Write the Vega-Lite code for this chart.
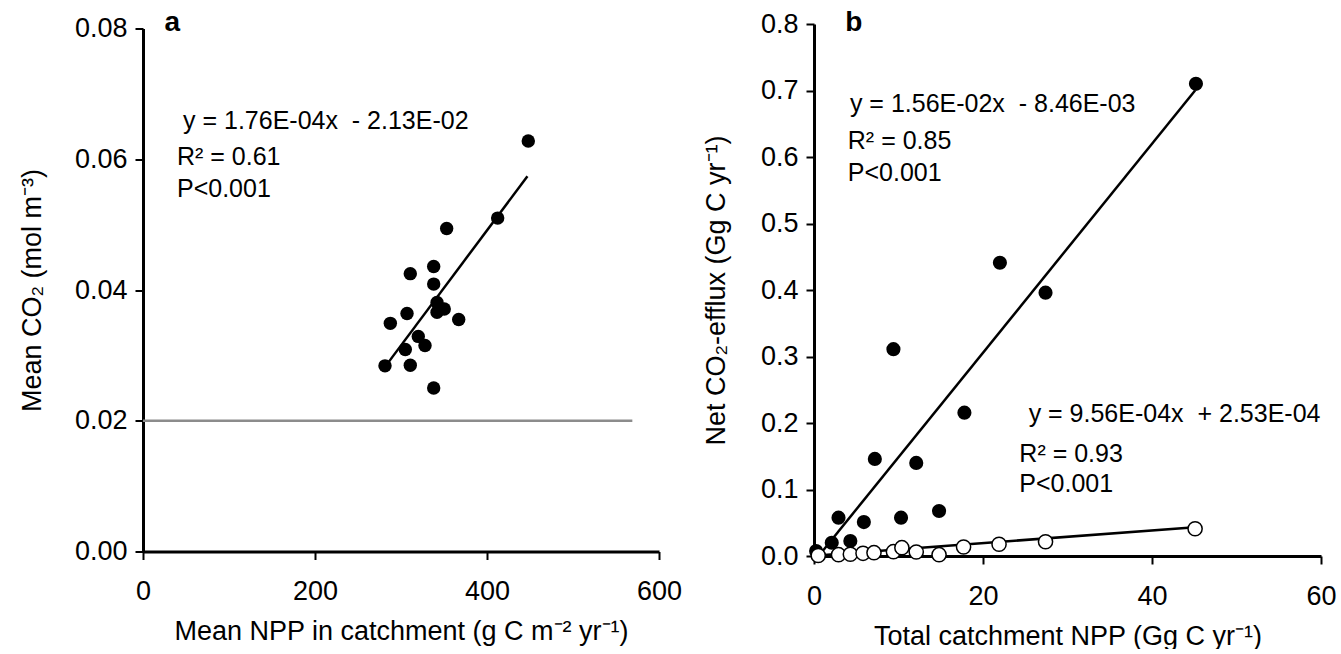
{
  "$schema": "https://vega.github.io/schema/vega-lite/v6.json",
  "background": "white",
  "padding": {"left": 18, "top": 9, "right": 0, "bottom": 0},
  "bounds": "flush",
  "center": true,
  "spacing": 155,
  "datasets": {
    "refA": [{"x": 0, "x2": 569, "y": 0.02}],
    "fitA": [{"x": 284, "y": 0.0287}, {"x": 447, "y": 0.0574}],
    "ptsA": [
      {"x": 412.4, "y": 0.0510}, {"x": 353.1, "y": 0.0494}, {"x": 338.0, "y": 0.0436},
      {"x": 310.8, "y": 0.0425}, {"x": 338.0, "y": 0.0409}, {"x": 341.9, "y": 0.0381},
      {"x": 350.3, "y": 0.0371}, {"x": 341.9, "y": 0.0366}, {"x": 307.0, "y": 0.0364},
      {"x": 367.1, "y": 0.0355}, {"x": 287.6, "y": 0.0349}, {"x": 320.1, "y": 0.0329},
      {"x": 327.9, "y": 0.0315}, {"x": 305.0, "y": 0.0309}, {"x": 281.4, "y": 0.0284},
      {"x": 310.8, "y": 0.0285}, {"x": 338.0, "y": 0.0250}, {"x": 448.0, "y": 0.0628}
    ],
    "txtA": [
      {"x": 46.5, "y": 0.0658, "t": "y = 1.76E-04x\u00a0\u00a0- 2.13E-02"},
      {"x": 39.5, "y": 0.0603, "t": "R² = 0.61"},
      {"x": 39.5, "y": 0.0555, "t": "P<0.001"}
    ],
    "lblA": [{"x": 25, "y": 0.0808, "t": "a"}],
    "fitB1": [{"x": 1.0, "y": 0.0072}, {"x": 45.1, "y": 0.7}],
    "fitB2": [{"x": 0.0, "y": 0.00025}, {"x": 45.1, "y": 0.0434}],
    "ptsB1": [
      {"x": 0.25, "y": 0.0075}, {"x": 2.1, "y": 0.020}, {"x": 4.3, "y": 0.0226},
      {"x": 2.9, "y": 0.0576}, {"x": 5.9, "y": 0.051}, {"x": 10.3, "y": 0.0576},
      {"x": 14.8, "y": 0.0677}, {"x": 7.2, "y": 0.146}, {"x": 12.1, "y": 0.140},
      {"x": 17.8, "y": 0.2155}, {"x": 9.4, "y": 0.311}, {"x": 27.4, "y": 0.396},
      {"x": 22.0, "y": 0.441}, {"x": 45.2, "y": 0.710}
    ],
    "ptsB2": [
      {"x": 0.5, "y": 0.0008}, {"x": 2.9, "y": 0.002}, {"x": 4.3, "y": 0.0026},
      {"x": 5.8, "y": 0.004}, {"x": 7.1, "y": 0.005}, {"x": 9.4, "y": 0.0065},
      {"x": 10.4, "y": 0.0125}, {"x": 12.1, "y": 0.006}, {"x": 14.8, "y": 0.002},
      {"x": 17.7, "y": 0.0135}, {"x": 21.9, "y": 0.0176}, {"x": 27.4, "y": 0.0215},
      {"x": 45.1, "y": 0.041}
    ],
    "txtB": [
      {"x": 4.25, "y": 0.680, "t": "y = 1.56E-02x\u00a0\u00a0- 8.46E-03"},
      {"x": 4.0, "y": 0.624, "t": "R² = 0.85"},
      {"x": 4.0, "y": 0.576, "t": "P<0.001"},
      {"x": 25.4, "y": 0.2135, "t": "y = 9.56E-04x\u00a0\u00a0+ 2.53E-04"},
      {"x": 24.3, "y": 0.154, "t": "R² = 0.93"},
      {"x": 24.3, "y": 0.108, "t": "P<0.001"}
    ],
    "lblB": [{"x": 3.7, "y": 0.8015, "t": "b"}]
  },
  "config": {
    "view": {"stroke": null},
    "font": "Liberation Sans",
    "axis": {
      "domainColor": "black", "domainWidth": 3, "tickColor": "black", "tickWidth": 2, "tickSize": 8,
      "grid": false, "labelFont": "Liberation Sans", "labelFontSize": 27, "labelColor": "black",
      "titleFont": "Liberation Sans", "titleFontSize": 27, "titleFontWeight": "normal", "titleColor": "black",
      "labelFlush": false, "labelOverlap": false
    },
    "axisX": {"labelPadding": 19, "titlePadding": 14},
    "axisY": {"labelPadding": 8, "titlePadding": 28}
  },
  "hconcat": [
    {
      "width": 516,
      "height": 523,
      "layer": [
        {
          "data": {"name": "refA"},
          "mark": {"type": "rule", "color": "#8c8c8c", "strokeWidth": 2.5},
          "encoding": {
            "x": {"field": "x", "type": "quantitative", "scale": {"domain": [0, 600], "nice": false},
                  "axis": {"values": [0, 200, 400, 600], "title": "Mean NPP in catchment (g C m⁻² yr⁻¹)"}},
            "x2": {"field": "x2"},
            "y": {"field": "y", "type": "quantitative", "scale": {"domain": [0, 0.08], "nice": false},
                  "axis": {"values": [0, 0.02, 0.04, 0.06, 0.08], "format": ".2f", "title": "Mean CO₂ (mol m⁻³)"}}
          }
        },
        {
          "data": {"name": "fitA"},
          "mark": {"type": "line", "color": "black", "strokeWidth": 2.5},
          "encoding": {
            "x": {"field": "x", "type": "quantitative"},
            "y": {"field": "y", "type": "quantitative"}
          }
        },
        {
          "data": {"name": "ptsA"},
          "mark": {"type": "circle", "size": 180, "color": "black", "opacity": 1},
          "encoding": {
            "x": {"field": "x", "type": "quantitative"},
            "y": {"field": "y", "type": "quantitative"}
          }
        },
        {
          "data": {"name": "txtA"},
          "mark": {"type": "text", "align": "left", "baseline": "middle", "fontSize": 25, "font": "Liberation Sans", "color": "black"},
          "encoding": {
            "x": {"field": "x", "type": "quantitative"},
            "y": {"field": "y", "type": "quantitative"},
            "text": {"field": "t"}
          }
        },
        {
          "data": {"name": "lblA"},
          "mark": {"type": "text", "align": "left", "baseline": "middle", "fontSize": 28, "fontWeight": "bold", "font": "Liberation Sans", "color": "black"},
          "encoding": {
            "x": {"field": "x", "type": "quantitative"},
            "y": {"field": "y", "type": "quantitative"},
            "text": {"field": "t"}
          }
        }
      ]
    },
    {
      "width": 507,
      "height": 532,
      "layer": [
        {
          "data": {"name": "fitB1"},
          "mark": {"type": "line", "color": "black", "strokeWidth": 2.5},
          "encoding": {
            "x": {"field": "x", "type": "quantitative", "scale": {"domain": [0, 60], "nice": false},
                  "axis": {"values": [0, 20, 40, 60], "title": "Total catchment NPP (Gg C yr⁻¹)"}},
            "y": {"field": "y", "type": "quantitative", "scale": {"domain": [0, 0.8], "nice": false},
                  "axis": {"values": [0, 0.1, 0.2, 0.3, 0.4, 0.5, 0.6, 0.7, 0.8], "format": ".1f", "title": "Net CO₂-efflux (Gg C yr⁻¹)", "titlePadding": 30}}
          }
        },
        {
          "data": {"name": "fitB2"},
          "mark": {"type": "line", "color": "black", "strokeWidth": 2.5},
          "encoding": {
            "x": {"field": "x", "type": "quantitative"},
            "y": {"field": "y", "type": "quantitative"}
          }
        },
        {
          "data": {"name": "ptsB1"},
          "mark": {"type": "circle", "size": 200, "color": "black", "opacity": 1},
          "encoding": {
            "x": {"field": "x", "type": "quantitative"},
            "y": {"field": "y", "type": "quantitative"}
          }
        },
        {
          "data": {"name": "ptsB2"},
          "mark": {"type": "circle", "size": 200, "fill": "white", "stroke": "black", "strokeWidth": 1.5, "opacity": 1, "fillOpacity": 1},
          "encoding": {
            "x": {"field": "x", "type": "quantitative"},
            "y": {"field": "y", "type": "quantitative"}
          }
        },
        {
          "data": {"name": "txtB"},
          "mark": {"type": "text", "align": "left", "baseline": "middle", "fontSize": 25, "font": "Liberation Sans", "color": "black"},
          "encoding": {
            "x": {"field": "x", "type": "quantitative"},
            "y": {"field": "y", "type": "quantitative"},
            "text": {"field": "t"}
          }
        },
        {
          "data": {"name": "lblB"},
          "mark": {"type": "text", "align": "left", "baseline": "middle", "fontSize": 28, "fontWeight": "bold", "font": "Liberation Sans", "color": "black"},
          "encoding": {
            "x": {"field": "x", "type": "quantitative"},
            "y": {"field": "y", "type": "quantitative"},
            "text": {"field": "t"}
          }
        }
      ]
    }
  ]
}
